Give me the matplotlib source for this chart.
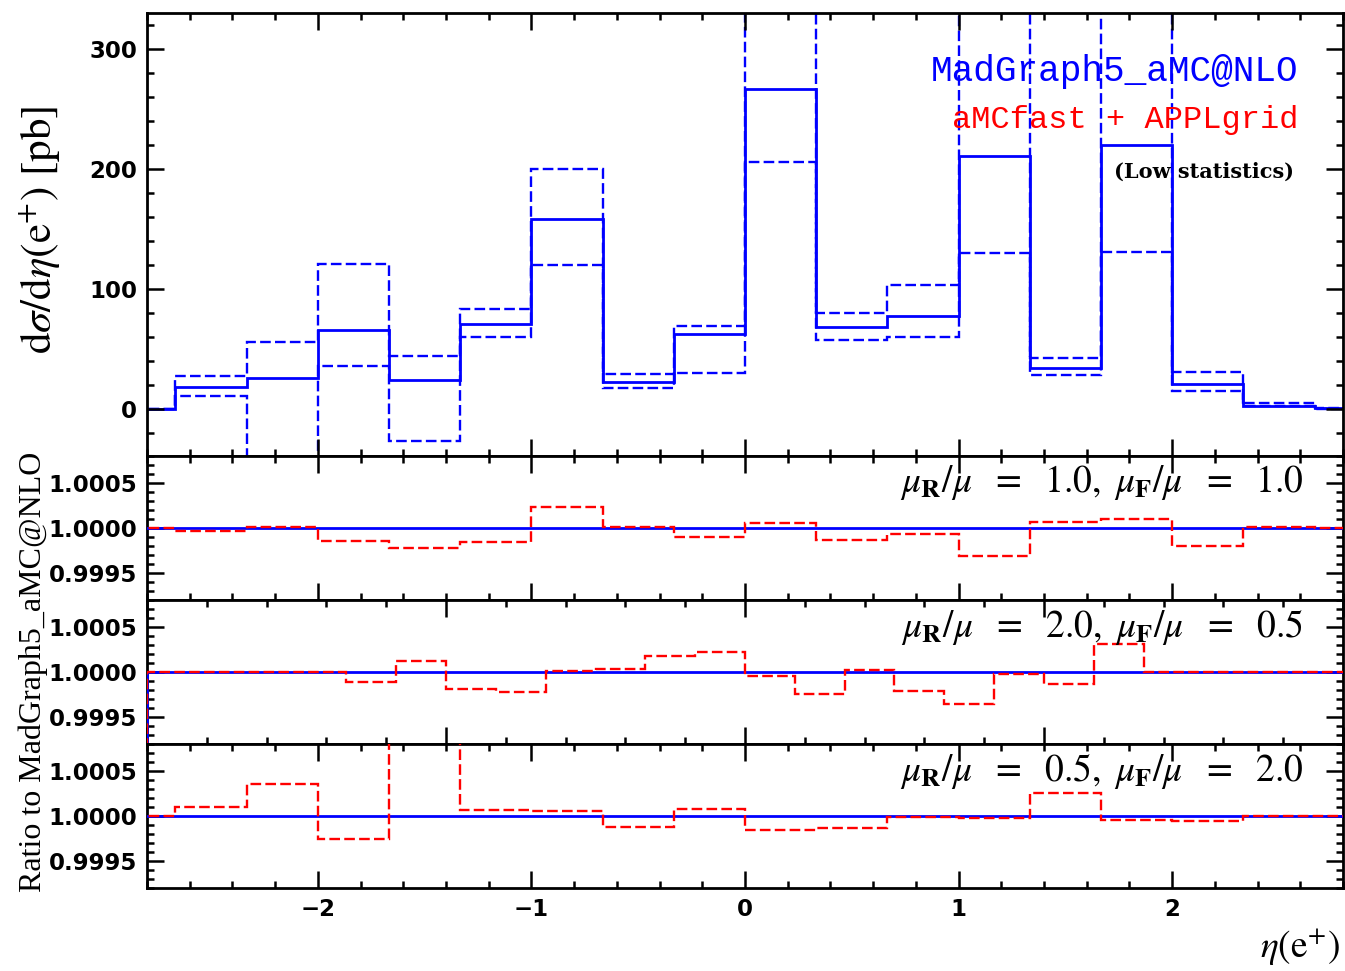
import numpy as np
import matplotlib
matplotlib.use("Agg")
from matplotlib import pyplot as plt
from matplotlib.ticker import MultipleLocator, FormatStrFormatter

plt.rcParams['mathtext.fontset'] = 'stix'

# bins of the main histogram (1/3 wide, shown from -2.8 to 2.8)
edges = np.linspace(-3, 3, 19)

central = [0, 18, 26, 66, 24, 71, 158, 22, 62, 267, 68, 77, 211, 34, 220, 21, 2, 1]
upper = [0, 27, 56, 121, 44, 83, 200, 29, 69, 380, 80, 103, 350, 42, 350, 31, 5, 1]
lower = [0, 11, -60, 36, -27, 60, 120, 17, 30, 206, 57, 60, 130, 28, 131, 15, 2, 0]

# ratio aMCfast+APPLgrid / MadGraph5_aMC@NLO
ratio_11 = [1.0, 0.99997, 1.00001, 0.99986, 0.99978, 0.99985, 1.00023, 1.00001, 0.99990,
            1.00006, 0.99987, 0.99993, 0.99969, 1.00007, 1.00010, 0.99980, 1.00001, 1.0]
ratio_05 = [1.0, 1.00010, 1.00035, 0.99974, 1.00150, 1.00007, 1.00005, 0.99988, 1.00008,
            0.99985, 0.99987, 0.99999, 0.99998, 1.00025, 0.99996, 0.99994, 1.0, 1.0]

# the (2.0, 0.5) panel uses 24 bins between -2 and 2 (plus the empty bin below -2)
edges_20 = np.linspace(-2 - 1 / 6, 2, 26)
ratio_20 = [0.0, 1.0, 1.0, 1.0, 1.0, 0.99989, 1.00012, 0.99981, 0.99978, 1.00001, 1.00003,
            1.00018, 1.00022, 0.99996, 0.99976, 1.00002, 0.99979, 0.99965, 0.99998,
            0.99987, 1.00031, 1.0, 1.0, 1.0, 1.0]
ref_20 = [0.0] + [1.0] * 24

panel_labels = ["1.0", "1.0", "2.0", "0.5", "0.5", "2.0"]

DASH = (0, (4.5, 1.8))
W, H = 1345, 971


def box(x0, y0, x1, y1):
    return [x0 / W, 1 - y1 / H, (x1 - x0) / W, (y1 - y0) / H]


def style_axis(ax, xmaj, xmin, ymaj, ymin):
    ax.xaxis.set_major_locator(MultipleLocator(xmaj))
    ax.xaxis.set_minor_locator(MultipleLocator(xmin))
    ax.yaxis.set_major_locator(MultipleLocator(ymaj))
    ax.yaxis.set_minor_locator(MultipleLocator(ymin))
    ax.tick_params(which='both', direction='in', top=True, right=True, width=1.8,
                   labelsize=16.5, pad=7)
    ax.tick_params(which='major', length=12)
    ax.tick_params(which='minor', length=5)
    for s in ax.spines.values():
        s.set_linewidth(2)
    for lab in ax.get_xticklabels() + ax.get_yticklabels():
        lab.set_fontweight('bold')


fig = plt.figure(figsize=(13.45, 9.71), dpi=100)

# main panel
ax0 = fig.add_axes(box(147, 13, 1343, 456))
ax0.stairs(central, edges, baseline=None, color='blue', lw=2.0)
ax0.stairs(upper, edges, baseline=None, color='blue', lw=1.7, linestyle=DASH)
ax0.stairs(lower, edges, baseline=None, color='blue', lw=1.7, linestyle=DASH)
ax0.set_xlim(-2.8, 2.8)
ax0.set_ylim(-39.4, 330)
style_axis(ax0, 1, 0.2, 100, 20)
ax0.tick_params(labelbottom=False)

ax0.text(0.9624, 0.867, "MadGraph5_aMC@NLO", transform=ax0.transAxes, ha='right',
         va='center', color='blue', fontsize=26, family='Liberation Mono')
ax0.text(0.9624, 0.758, "aMCfast + APPLgrid", transform=ax0.transAxes, ha='right',
         va='center', color='red', fontsize=23, family='Liberation Mono')
ax0.text(0.959, 0.641, "(Low statistics)", transform=ax0.transAxes, ha='right',
         va='center', color='black', fontsize=15, family='DejaVu Serif',
         fontweight='bold')

# ratio panels
panels = [
    (456, 600, edges, ratio_11, [1.0] * 18, (-2.8, 2.8)),
    (600, 744, edges_20, ratio_20, ref_20, (-2.0, 2.0)),
    (744, 888, edges, ratio_05, [1.0] * 18, (-2.8, 2.8)),
]
ratio_axes = []
for i, (y0, y1, e, r, ref, xl) in enumerate(panels):
    ax = fig.add_axes(box(147, y0, 1343, y1))
    ax.stairs(ref, e, baseline=None, color='blue', lw=2.0, zorder=3)
    ax.stairs(r, e, baseline=None, color='red', lw=1.7, linestyle=DASH, zorder=3)
    ax.set_xlim(*xl)
    ax.set_ylim(0.9992, 1.0008)
    ax.yaxis.set_major_formatter(FormatStrFormatter('%.4f'))
    style_axis(ax, 1, 0.2, 0.0005, 0.0001)
    mr, mf = panel_labels[2 * i], panel_labels[2 * i + 1]
    ax.text(0.9666, 0.8125,
            r'$\mu_{\mathbf{R}}/\mu\ \ =\ \ %s,\ \mu_{\mathbf{F}}/\mu\ \ =\ \ %s$' % (mr, mf),
            transform=ax.transAxes, ha='right', va='center', fontsize=27)
    if i < 2:
        ax.tick_params(labelbottom=False)
    ratio_axes.append(ax)

fig.text(40 / W, 1 - 230 / H, r'd$\sigma$/d$\eta$(e$^{+}$) [pb]', rotation=90,
         ha='center', va='center', fontsize=31, family='STIXGeneral')
fig.text(33 / W, 1 - 672 / H, "Ratio to MadGraph5_aMC@NLO", rotation=90,
         ha='center', va='center', fontsize=23, family='Liberation Serif')
fig.text(1340 / W, 1 - 946 / H, r'$\eta$(e$^{+}$)', ha='right', va='center',
         fontsize=27, family='STIXGeneral')

fig.savefig("out.png", dpi=100)
